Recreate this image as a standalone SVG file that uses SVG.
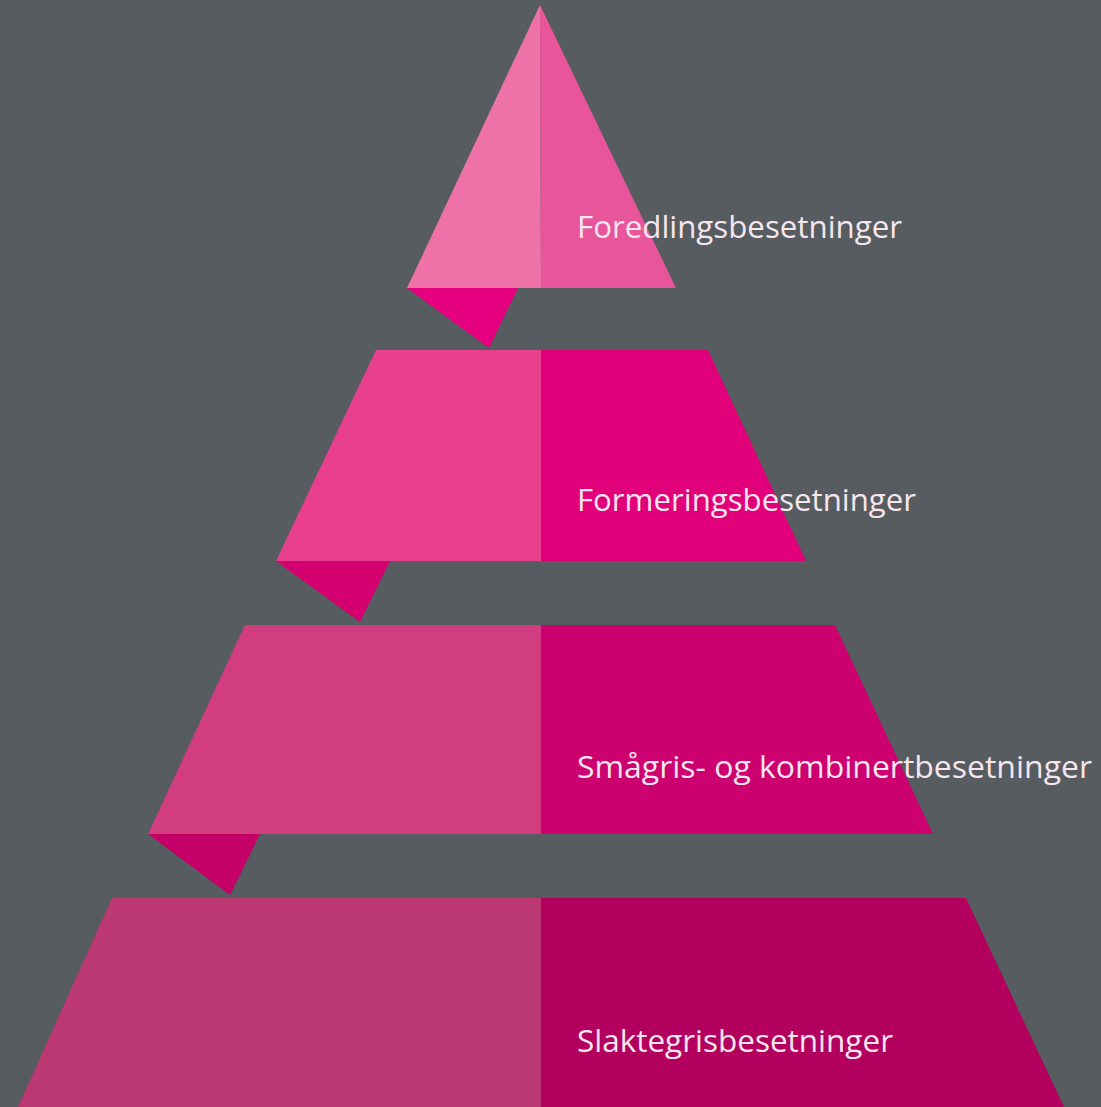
<svg xmlns="http://www.w3.org/2000/svg" width="1101" height="1107" viewBox="0 0 1101 1107">
<style>
.lbl{font-family:"Open Sans","Noto Sans","Liberation Sans",sans-serif;font-size:31px;fill:#f6e6ee;}
</style>
<rect x="0" y="0" width="1101" height="1107" fill="#565c5f"/>
<g id="tier1">
<polygon points="407,288 518,288 489,348" fill="#e4007f"/>
<polygon points="540,5 407,288 541,288" fill="#ee72a8"/>
<polygon points="540,5 541,288 676,288" fill="#e8559b"/>
<text class="lbl" x="577" y="238" textLength="325" lengthAdjust="spacingAndGlyphs">Foredlingsbesetninger</text>
</g>
<g id="tier2">
<polygon points="276,561 390,561 360,622" fill="#d5006f"/>
<polygon points="376,350 541,350 541,561 276,561" fill="#e8408f"/>
<polygon points="541,350 708,350 806,561 541,561" fill="#e2007a"/>
<text class="lbl" x="577" y="511" textLength="339" lengthAdjust="spacingAndGlyphs">Formeringsbesetninger</text>
</g>
<g id="tier3">
<polygon points="148,834 260,834 230,895" fill="#c40068"/>
<polygon points="245,625 541,625 541,834 148,834" fill="#d23d80"/>
<polygon points="541,625 835,625 933,834 541,834" fill="#cc006e"/>
<text class="lbl" x="577" y="778" textLength="515" lengthAdjust="spacingAndGlyphs">Smågris- og kombinertbesetninger</text>
</g>
<g id="tier4">
<polygon points="112,898 541,898 541,1107 18,1107" fill="#bb3872"/>
<polygon points="541,898 966,898 1064,1107 541,1107" fill="#b3005f"/>
<text class="lbl" x="577" y="1052" textLength="316" lengthAdjust="spacingAndGlyphs">Slaktegrisbesetninger</text>
</g>
</svg>
